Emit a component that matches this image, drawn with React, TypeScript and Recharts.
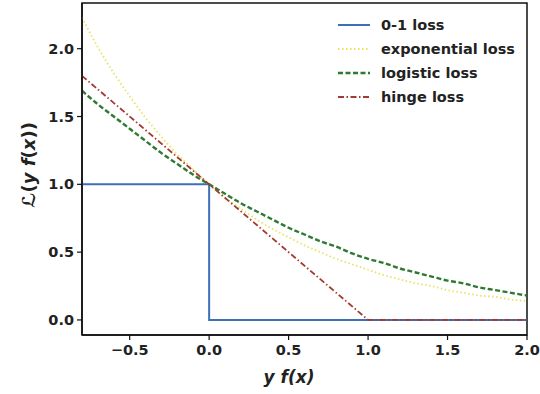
import { LineChart, Line, XAxis, YAxis, ReferenceArea } from "recharts";

// x positions sampled along y f(x)
const xs = [
  -0.8, -0.7, -0.6, -0.5, -0.4, -0.3, -0.2, -0.1, 0, 0.1, 0.2, 0.3, 0.4, 0.5, 0.6,
  0.7, 0.8, 0.9, 1.0, 1.1, 1.2, 1.3, 1.4, 1.5, 1.6, 1.7, 1.8, 1.9, 2.0,
];

// values
const expLoss = [
  2.23, 2.01, 1.82, 1.65, 1.49, 1.35, 1.22, 1.11, 1.0, 0.9, 0.82, 0.74, 0.67, 0.61, 0.55,
  0.5, 0.45, 0.41, 0.37, 0.33, 0.3, 0.27, 0.25, 0.22, 0.2, 0.18, 0.17, 0.15, 0.14,
];
const logLoss = [
  1.69, 1.59, 1.5, 1.41, 1.32, 1.23, 1.15, 1.07, 1.0, 0.93, 0.86, 0.8, 0.74, 0.68, 0.63,
  0.58, 0.54, 0.49, 0.45, 0.42, 0.38, 0.35, 0.32, 0.29, 0.27, 0.24, 0.22, 0.2, 0.18,
];

// piecewise losses (corner points)
const zeroOneX = [-0.8, 0, 0, 2.0];
const zeroOneY = [1, 1, 0, 0];
const hingeX = [-0.8, 1.0, 2.0];
const hingeY = [1.8, 0, 0];

const xTicks = [-0.5, 0, 0.5, 1.0, 1.5, 2.0];
const yTicks = [0, 0.5, 1.0, 1.5, 2.0];

const xDomain = [-0.8, 2.0];
const yDomain = [-0.111, 2.337];

const zip = (a: number[], b: number[]) => a.map((x, i) => ({ x, y: b[i] }));

const legendItems = [
  { name: "0-1 loss", color: "#3d70b8", dash: "", width: 2 },
  { name: "exponential loss", color: "#e8e35e", dash: "1.5 2.5", width: 1.8 },
  { name: "logistic loss", color: "#2f7a33", dash: "5 2.5", width: 2.4 },
  { name: "hinge loss", color: "#a23a32", dash: "6 2.5 1.5 2.5", width: 1.8 },
];

const font = "'DejaVu Sans', sans-serif";
const tickStyle = { fill: "#222", fontSize: 14.5, fontWeight: 700, fontFamily: font };

const fmt = (v: number) => (v < 0 ? "\u2212" + Math.abs(v).toFixed(1) : v.toFixed(1));

export default function App() {
  return (
    <div style={{ position: "fixed", left: 0, top: 0, width: 540, height: 394, background: "#fff" }}>
      <LineChart width={540} height={394} margin={{ top: 3, right: 13, bottom: 0, left: 0 }}>
        <XAxis
          type="number"
          dataKey="x"
          domain={xDomain}
          ticks={xTicks}
          tickFormatter={fmt}
          allowDataOverflow
          height={59}
          tickSize={5}
          tickMargin={5}
          tick={tickStyle}
          axisLine={{ stroke: "#111", strokeWidth: 1.5 }}
          tickLine={{ stroke: "#111", strokeWidth: 1.2 }}
        />
        <YAxis
          type="number"
          domain={yDomain}
          ticks={yTicks}
          tickFormatter={fmt}
          allowDataOverflow
          width={82}
          tickSize={5}
          tickMargin={3}
          tick={tickStyle}
          axisLine={{ stroke: "#111", strokeWidth: 1.5 }}
          tickLine={{ stroke: "#111", strokeWidth: 1.2 }}
        />
        {/* plot frame */}
        <ReferenceArea
          x1={xDomain[0]}
          x2={xDomain[1]}
          y1={yDomain[0]}
          y2={yDomain[1]}
          fill="none"
          stroke="#111"
          strokeWidth={1.5}
          ifOverflow="visible"
        />
        <Line
          data={zip(zeroOneX, zeroOneY)}
          dataKey="y"
          type="linear"
          stroke={legendItems[0].color}
          strokeWidth={2}
          dot={false}
          isAnimationActive={false}
        />
        <Line
          data={zip(xs, expLoss)}
          dataKey="y"
          type="monotone"
          stroke={legendItems[1].color}
          strokeWidth={1.8}
          strokeDasharray={legendItems[1].dash}
          dot={false}
          isAnimationActive={false}
        />
        <Line
          data={zip(xs, logLoss)}
          dataKey="y"
          type="monotone"
          stroke={legendItems[2].color}
          strokeWidth={2.4}
          strokeDasharray={legendItems[2].dash}
          dot={false}
          isAnimationActive={false}
        />
        <Line
          data={zip(hingeX, hingeY)}
          dataKey="y"
          type="linear"
          stroke={legendItems[3].color}
          strokeWidth={1.8}
          strokeDasharray={legendItems[3].dash}
          dot={false}
          isAnimationActive={false}
        />
      </LineChart>

      {/* legend */}
      <div style={{ position: "absolute", left: 336, top: 13, fontFamily: font, fontWeight: 700, fontSize: 14.5, color: "#222" }}>
        {legendItems.map((it) => (
          <div key={it.name} style={{ display: "flex", alignItems: "center", height: 24 }}>
            <svg width={36} height={10} style={{ marginRight: 9 }}>
              <line x1={2} y1={5} x2={34} y2={5} stroke={it.color} strokeWidth={it.width} strokeDasharray={it.dash} />
            </svg>
            <span>{it.name}</span>
          </div>
        ))}
      </div>

      {/* axis labels */}
      <div
        style={{
          position: "absolute",
          left: 289,
          top: 377,
          transform: "translate(-50%, -50%)",
          fontFamily: font,
          fontWeight: 700,
          fontSize: 17,
          fontStyle: "italic",
          color: "#222",
          whiteSpace: "nowrap",
        }}
      >
        y f(x)
      </div>
      <div
        style={{
          position: "absolute",
          left: 28,
          top: 165,
          transform: "translate(-50%, -50%) rotate(-90deg)",
          fontFamily: font,
          fontWeight: 700,
          fontSize: 18,
          color: "#222",
          whiteSpace: "nowrap",
        }}
      >
        <span style={{ fontStyle: "italic" }}>ℒ</span>(<i>y f</i>(<i>x</i>))
      </div>
    </div>
  );
}
